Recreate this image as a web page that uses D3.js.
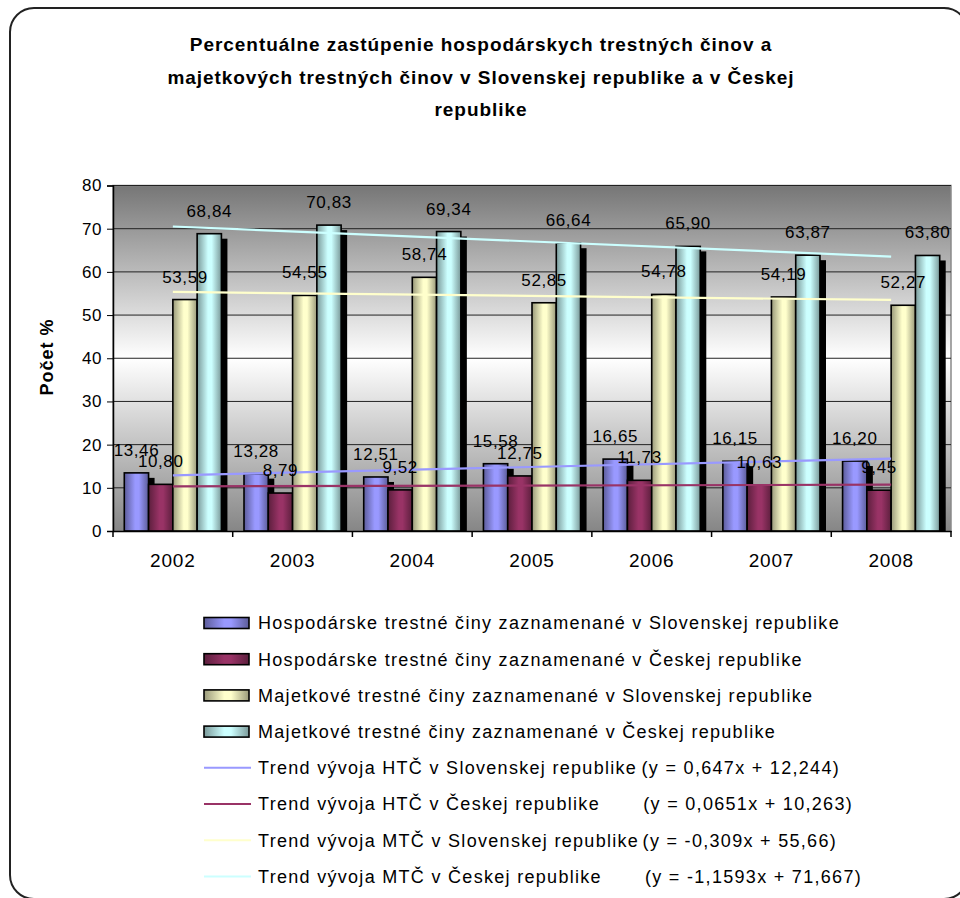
<!DOCTYPE html>
<html><head><meta charset="utf-8">
<script src="https://cdn.jsdelivr.net/npm/d3@7"></script>
<style>body{margin:0;background:#fff}svg{display:block}text{font-family:Arial,"Liberation Sans",sans-serif}</style>
</head><body>
<script>
const years = ["2002","2003","2004","2005","2006","2007","2008"];
const htcSK = [13.46,13.28,12.51,15.58,16.65,16.15,16.20];
const htcCZ = [10.80,8.79,9.52,12.75,11.73,10.63,9.45];
const mtcSK = [53.59,54.55,58.74,52.85,54.78,54.19,52.27];
const mtcCZ = [68.84,70.83,69.34,66.64,65.90,63.87,63.80];
const yTicks = [0,10,20,30,40,50,60,70,80];
const seriesNames = [
  "Hospodárske trestné činy zaznamenané v Slovenskej republike",
  "Hospodárske trestné činy zaznamenané v Českej republike",
  "Majetkové trestné činy zaznamenané v Slovenskej republike",
  "Majetkové trestné činy zaznamenané v Českej republike"];
const trendNames = [
  "Trend vývoja HTČ v Slovenskej republike",
  "Trend vývoja HTČ v Českej republike",
  "Trend vývoja MTČ v Slovenskej republike",
  "Trend vývoja MTČ v Českej republike"];
const trendEq = ["(y = 0,647x + 12,244)","(y = 0,0651x + 10,263)","(y = -0,309x + 55,66)","(y = -1,1593x + 71,667)"];
// trend line values at 2002 and 2008 (from the legend equations, x = 1 and x = 7)
const trendStart = [12.891,10.328,55.351,70.508];
const trendEnd = [16.773,10.719,53.497,63.552];
const titleLines = ["Percentuálne zastúpenie hospodárskych trestných činov a","majetkových trestných činov v Slovenskej republike a v Českej","republike"];

const colors = ["#9999ff","#993366","#ffffcc","#ccffff"];
const series = [htcSK, htcCZ, mtcSK, mtcCZ];

const W=960,H=898;
const svg=d3.select("body").append("svg").attr("width",W).attr("height",H);
const defs=svg.append("defs");
colors.forEach((c,i)=>{
  const g=defs.append("linearGradient").attr("id","bg"+i).attr("x1","0").attr("x2","1").attr("y1","0").attr("y2","0");
  const dark=d3.interpolateRgb(c,"#000")(0.4);
  g.append("stop").attr("offset","0%").attr("stop-color",dark);
  g.append("stop").attr("offset","45%").attr("stop-color",c);
  g.append("stop").attr("offset","60%").attr("stop-color",c);
  g.append("stop").attr("offset","100%").attr("stop-color",dark);
});
const pg=defs.append("linearGradient").attr("id","plotbg").attr("x1","0").attr("x2","0").attr("y1","0").attr("y2","1");
pg.append("stop").attr("offset","0%").attr("stop-color","#767676");
pg.append("stop").attr("offset","50%").attr("stop-color","#ffffff");
pg.append("stop").attr("offset","100%").attr("stop-color","#868686");

// outer frame
svg.append("rect").attr("x",10).attr("y",8).attr("width",958).attr("height",891).attr("rx",24)
  .attr("fill","#fff").attr("stroke","#222").attr("stroke-width",2);

// title
svg.append("g").selectAll("text").data(titleLines).join("text")
  .attr("x",481).attr("y",(d,i)=>51+i*32.5).attr("text-anchor","middle")
  .attr("font-weight","bold").attr("font-size",19).attr("letter-spacing",0.95).text(d=>d);

const L=113,R=951,T=185.5,B=531;
const x=d3.scaleBand().domain(years).range([L,R]);
const y=d3.scaleLinear().domain([0,80]).range([B,T]);
const inner=d3.scaleBand().domain([0,1,2,3]).range([0,x.bandwidth()]).paddingOuter(0.465).paddingInner(0);

svg.append("rect").attr("x",L).attr("y",T).attr("width",R-L).attr("height",B-T)
  .attr("fill","url(#plotbg)").attr("stroke","#8a8a8a").attr("stroke-width",1.5);

// gridlines
svg.append("g").selectAll("line").data(yTicks.filter(d=>d>0)).join("line")
  .attr("x1",L).attr("x2",R).attr("y1",d=>y(d)).attr("y2",d=>y(d))
  .attr("stroke","#222").attr("stroke-width",1);

// bars with shadows
const bars=svg.append("g");
years.forEach((yr,j)=>{
  series.forEach((s,i)=>{
    const bx=x(yr)+inner(i), bw=inner.bandwidth(), by=y(s[j]);
    bars.append("rect").attr("x",bx+6).attr("y",by+5).attr("width",bw).attr("height",B-by-5).attr("fill","#000");
    bars.append("rect").attr("x",bx).attr("y",by).attr("width",bw).attr("height",B-by)
      .attr("fill","url(#bg"+i+")").attr("stroke","#000").attr("stroke-width",1.6);
  });
});

// axes
const yAxis=svg.append("g").attr("transform",`translate(${L},0)`).call(d3.axisLeft(y).tickValues(yTicks).tickSize(6).tickPadding(5));
yAxis.select(".domain").attr("stroke","#000").attr("stroke-width",1.5);
yAxis.selectAll("text").attr("font-size",17).attr("letter-spacing",0.5).attr("fill","#000");
const xAxis=svg.append("g").attr("transform",`translate(0,${B})`).call(d3.axisBottom(x).tickSize(0).tickPadding(23));
xAxis.select(".domain").attr("stroke","#000").attr("stroke-width",1.5);
xAxis.selectAll("text").attr("font-size",19).attr("letter-spacing",0.8).attr("fill","#000");
svg.append("g").selectAll("line").data(years.concat(["end"])).join("line")
  .attr("x1",(d,i)=>L+i*x.step()).attr("x2",(d,i)=>L+i*x.step()).attr("y1",B).attr("y2",B+6)
  .attr("stroke","#000").attr("stroke-width",1.5);

// trend lines
const xc=yr=>x(yr)+x.bandwidth()/2;
svg.append("g").selectAll("line").data(trendStart).join("line")
  .attr("x1",xc(years[0])).attr("x2",xc(years[years.length-1]))
  .attr("y1",d=>y(d)).attr("y2",(d,i)=>y(trendEnd[i]))
  .attr("stroke",(d,i)=>colors[i]).attr("stroke-width",2.2);

// data labels
const lab=svg.append("g");
series.forEach((s,i)=>{
  s.forEach((v,j)=>{
    lab.append("text").attr("x",x(years[j])+inner(i)+inner.bandwidth()/2).attr("y",y(v)-17)
      .attr("text-anchor","middle").attr("font-size",17).attr("letter-spacing",0.6).attr("fill","#000")
      .text(v.toFixed(2).replace(".",","));
  });
});

// y title
svg.append("text").attr("transform","translate(53,357) rotate(-90)").attr("text-anchor","middle")
  .attr("font-weight","bold").attr("font-size",18).attr("letter-spacing",1).text("Počet %");

// legend
const lg=svg.append("g");
const rowY=i=>623+i*36.2;
const legFont=18, legLS=1.3;
seriesNames.forEach((n,i)=>{
  lg.append("rect").attr("x",204).attr("y",rowY(i)-5.5).attr("width",45).attr("height",11)
    .attr("fill","url(#bg"+i+")").attr("stroke","#000").attr("stroke-width",1.6);
  lg.append("text").attr("x",258).attr("y",rowY(i)).attr("dy","0.35em").attr("font-size",legFont).attr("letter-spacing",legLS).text(n);
});
trendNames.forEach((n,i)=>{
  const ry=rowY(i+4);
  lg.append("line").attr("x1",204).attr("x2",251).attr("y1",ry).attr("y2",ry).attr("stroke",colors[i]).attr("stroke-width",2);
  lg.append("text").attr("x",258).attr("y",ry).attr("dy","0.35em").attr("font-size",legFont).attr("letter-spacing",legLS).text(n);
  lg.append("text").attr("x",[840,853,837,862][i]).attr("y",ry).attr("dy","0.35em").attr("text-anchor","end")
    .attr("font-size",legFont).attr("letter-spacing",legLS).text(trendEq[i]);
});
</script>
</body></html>
